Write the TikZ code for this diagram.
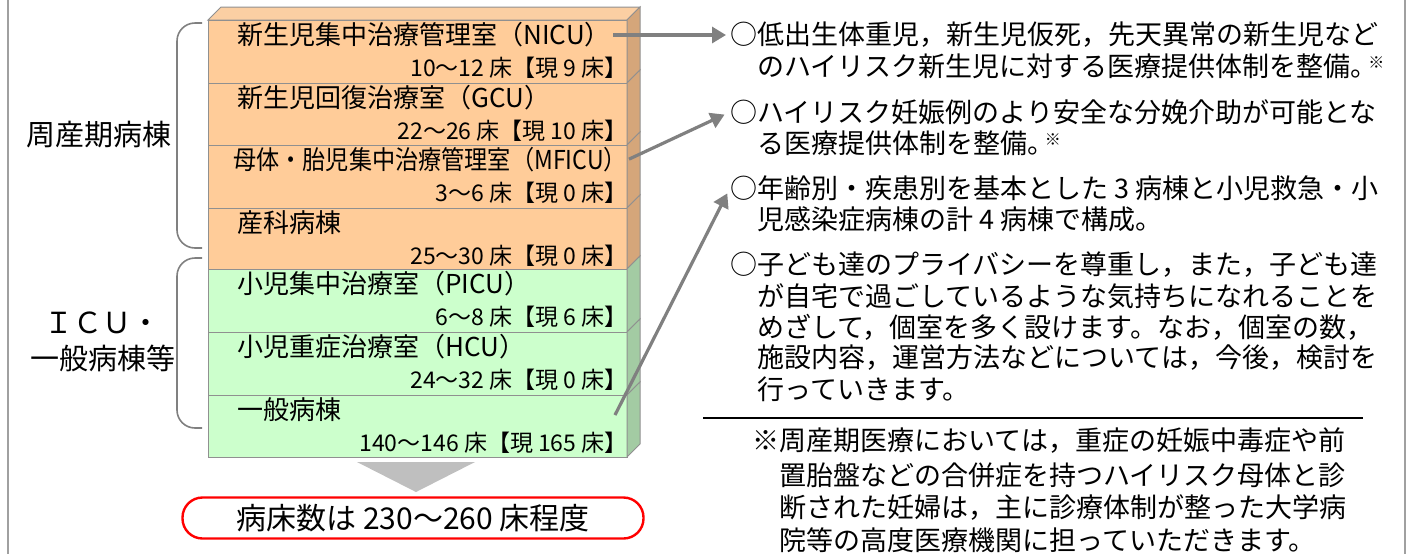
\documentclass[tikz,border=0pt]{standalone}
\usepackage{fontspec}
\usepackage{graphicx}
\setmainfont{Noto Sans CJK JP}
\usetikzlibrary{arrows.meta}
\definecolor{orf}{HTML}{FFCC99}
\definecolor{ors}{HTML}{D5A67A}
\definecolor{ort}{HTML}{FBCFA3}
\definecolor{grf}{HTML}{CCFFCC}
\definecolor{grs}{HTML}{A3CBA3}
\definecolor{edgec}{HTML}{909090}
\definecolor{arrc}{HTML}{808080}
\definecolor{framec}{HTML}{A0A0A0}
\definecolor{tri}{HTML}{BFBFBF}
\tikzset{
  rowtitle/.style={anchor=west, inner sep=0pt, font=\fontsize{13}{15}\selectfont},
  beds/.style={anchor=east, inner sep=0pt, font=\fontsize{11.5}{13}\selectfont},
  grouplabel/.style={inner sep=0pt, font=\fontsize{14.5}{17}\selectfont},
  txt/.style={anchor=west, inner sep=0pt, font=\fontsize{13.5}{16}\selectfont},
  bracketline/.style={draw=arrc, line width=0.8pt, rounded corners=9pt},
  conn/.style={draw=arrc, line width=1.6pt, -{Triangle[length=7pt,width=8pt]}},
  totalbox/.style={draw=red, line width=1.2pt, rounded corners=10pt, minimum width=230.5pt, minimum height=20.5pt, inner sep=0pt, font=\fontsize{15}{17}\selectfont}
}
\newcommand{\kome}{\kern-0.35em\raisebox{0.55ex}{\fontsize{8}{9}\selectfont ※}}
\begin{document}
\begin{tikzpicture}[x=0.5pt,y=-0.5pt]
\useasboundingbox (0,0) rectangle (1407,554);
% frame side lines
\draw[framec, line width=0.6pt] (8,0) -- (8,554);
\draw[framec, line width=0.6pt] (1405,0) -- (1405,554);
% stack
\filldraw[fill=ort, draw=edgec, line width=0.5pt] (208,20) -- (221,7) -- (640,7) -- (627,20) -- cycle;
\foreach \t/\b/\cf/\cs in {20/83/orf/ors,83/145/orf/ors,145/208/orf/ors,208/269/orf/ors,269/332/grf/grs,332/395/grf/grs,395/457/grf/grs}{
  \filldraw[fill=\cf, draw=edgec, line width=0.5pt] (208,\t) rectangle (627,\b);
  \filldraw[fill=\cs, draw=edgec, line width=0.5pt] (627,\t) -- (640,\t-13) -- (640,\b-13) -- (627,\b) -- cycle;
}
% row texts
\node[rowtitle] (t1) at (237,35) {新生児集中治療管理室（NICU）};
\node[beds] (b1) at (628,68) {10〜12 床【現 9 床】};
\node[rowtitle] (t2) at (237,98) {新生児回復治療室（GCU）};
\node[beds] (b2) at (628,131) {22〜26 床【現 10 床】};
\node[rowtitle] (t3) at (233,160) {\scalebox{0.89}[1]{母体・胎児集中治療管理室（MFICU）}};
\node[beds] (b3) at (628,193) {3〜6 床【現 0 床】};
\node[rowtitle] (t4) at (237,223) {産科病棟};
\node[beds] (b4) at (628,256) {25〜30 床【現 0 床】};
\node[rowtitle] (t5) at (237,284) {小児集中治療室（PICU）};
\node[beds] (b5) at (628,317) {6〜8 床【現 6 床】};
\node[rowtitle] (t6) at (237,347) {小児重症治療室（HCU）};
\node[beds] (b6) at (628,380) {24〜32 床【現 0 床】};
\node[rowtitle] (t7) at (237,410) {一般病棟};
\node[beds] (b7) at (628,443) {140〜146 床【現 165 床】};
% brackets and group labels
\draw[bracketline] (202,23) -- (177,23) -- (177,248) -- (202,248);
\draw[bracketline] (202,258) -- (177,258) -- (177,428) -- (202,428);
\node[grouplabel] (g1) at (99,135) {周産期病棟};
\node[grouplabel] (g2a) at (102,323) {ＩＣＵ・};
\node[grouplabel] (g2b) at (103,358) {一般病棟等};
% down triangle and total
\fill[tri] (357,462) -- (475,462) -- (416,492) -- cycle;
\node[totalbox] (total) at (413,518) {病床数は 230〜260 床程度};
% right texts
\node[txt] (L1) at (730,35) {○低出生体重児，新生児仮死，先天異常の新生児など};
\node[txt] (L2) at (757,66) {のハイリスク新生児に対する医療提供体制を整備。\kome};
\node[txt] (L3) at (730,112) {○ハイリスク妊娠例のより安全な分娩介助が可能とな};
\node[txt] (L4) at (757,143) {る医療提供体制を整備。\kome};
\node[txt] (L5) at (730,188) {○年齢別・疾患別を基本とした 3 病棟と小児救急・小};
\node[txt] (L6) at (757,219) {児感染症病棟の計 4 病棟で構成。};
\node[txt] (L7) at (730,265) {○子ども達のプライバシーを尊重し，また，子ども達};
\node[txt] (L8) at (757,296) {が自宅で過ごしているような気持ちになれることを};
\node[txt] (L9) at (757,327) {めざして，個室を多く設けます。なお，個室の数，};
\node[txt] (L10) at (757,358) {施設内容，運営方法などについては，今後，検討を};
\node[txt] (L11) at (757,389) {行っていきます。};
\coordinate (rl) at (703,418);
\coordinate (rr) at (1363,418);
\draw[black, line width=0.6pt] (rl) -- (rr);
\node[txt] (F1) at (752,441) {※周産期医療においては，重症の妊娠中毒症や前};
\node[txt] (F2) at (779,475) {置胎盤などの合併症を持つハイリスク母体と診};
\node[txt] (F3) at (779,508) {断された妊婦は，主に診療体制が整った大学病};
\node[txt] (F4) at (779,540) {院等の高度医療機関に担っていただきます。};
% connectors
\coordinate (a3s) at (615,415);
\draw[conn, shorten <=1pt, shorten >=2pt] (t1.east) -- (L1.west);
\draw[conn, shorten <=1pt, shorten >=3pt] (t3.east) -- (L3.west);
\draw[conn, shorten >=3pt] (a3s) -- (L5.west);
\end{tikzpicture}
\end{document}
